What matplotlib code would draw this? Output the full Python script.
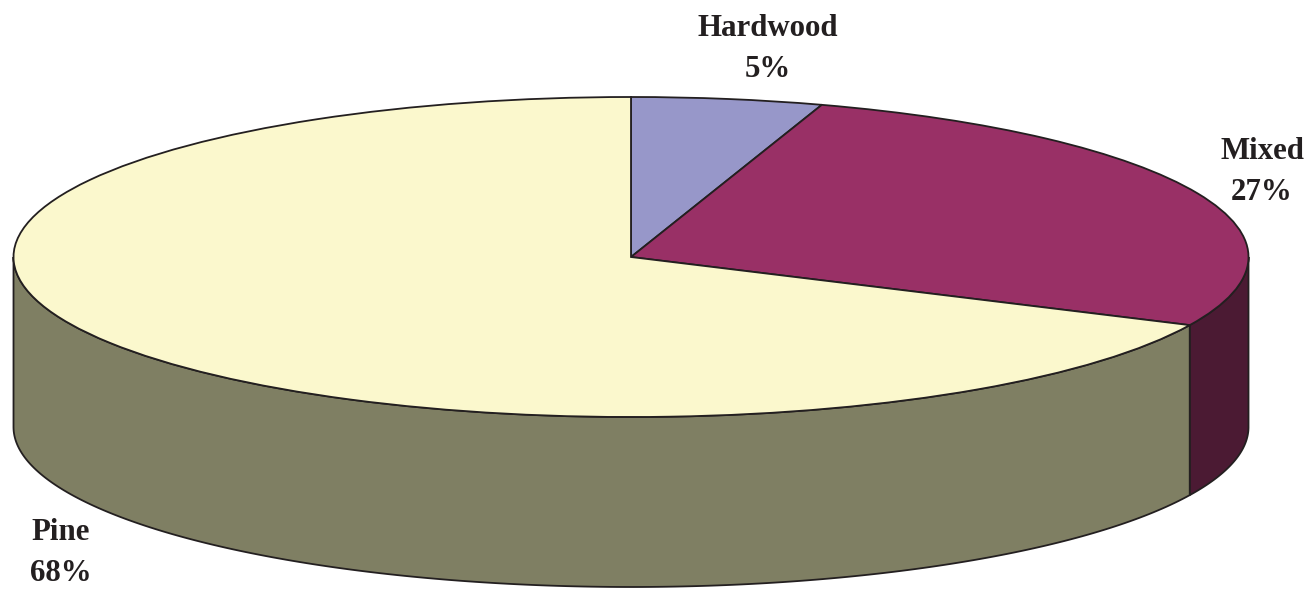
import numpy as np
import matplotlib
matplotlib.use("Agg")
import matplotlib.pyplot as plt

categories = ["Hardwood", "Mixed", "Pine"]
shares = [5, 27, 68]
top_colors = ["#9797C9", "#993066", "#FBF8CD"]
side_colors = ["#4B4B64", "#4B1A33", "#7F7F63"]

W, H = 1314, 589
cx, cy, rx, ry, depth = 631, 257, 617.5, 160, 170
ink = "#231F20"

fig = plt.figure(figsize=(W / 100, H / 100), dpi=100)
ax = fig.add_axes([0, 0, 1, 1])
ax.pie(shares, colors=top_colors, startangle=90, counterclock=False, radius=1,
       wedgeprops=dict(edgecolor=ink, linewidth=1.3, zorder=5))
ax.set_aspect("auto")
ax.set_xlim(-cx / rx, (W - cx) / rx)
ax.set_ylim((cy - H) / ry, cy / ry)
ax.axis("off")

d = depth / ry
edges = np.concatenate([[0], np.cumsum(shares)]) * 3.6  # degrees clockwise from top
for i, c in enumerate(side_colors):
    a0, a1 = max(edges[i], 90), min(edges[i + 1], 270)
    if a1 <= a0:
        continue
    t = np.radians(np.linspace(a0, a1, 200))
    x, y = np.sin(t), np.cos(t)
    ax.fill(np.r_[x, x[::-1]], np.r_[y, y[::-1] - d], facecolor=c,
            edgecolor=ink, linewidth=1.3, zorder=2)

style = dict(family=["Liberation Serif", "DejaVu Serif"], fontsize=22.2, fontweight="bold",
             ha="center", va="center", color=ink, linespacing=1.58, zorder=10)
label_px = {"Hardwood": (768, 49), "Mixed": (1262, 172), "Pine": (61, 553)}
for name, s in zip(categories, shares):
    px, py = label_px[name]
    ax.text((px - cx) / rx, (cy - py) / ry, f"{name}\n{s}%", **style)

fig.savefig("out.png", dpi=100, facecolor="white")
